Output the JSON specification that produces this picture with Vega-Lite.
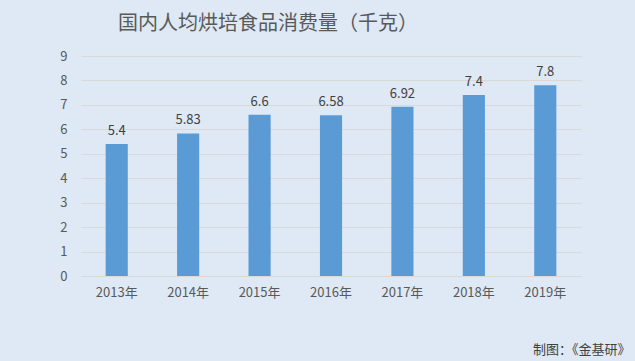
{
  "$schema": "https://vega.github.io/schema/vega-lite/v6.json",
  "width": 500,
  "height": 220,
  "autosize": {"type": "none"},
  "padding": {"left": 81, "top": 56, "right": 54, "bottom": 85},
  "background": "#dee9f5",
  "config": {
    "view": {"stroke": null},
    "font": "Noto Sans CJK SC"
  },
  "title": {
    "text": "国内人均烘培食品消费量（千克）",
    "anchor": "start",
    "frame": "group",
    "dx": 37,
    "offset": 16,
    "fontSize": 20,
    "fontWeight": "normal",
    "color": "#595959",
    "font": "Noto Sans CJK SC"
  },
  "data": {
    "values": [
      {"year": "2013年", "value": 5.4},
      {"year": "2014年", "value": 5.83},
      {"year": "2015年", "value": 6.6},
      {"year": "2016年", "value": 6.58},
      {"year": "2017年", "value": 6.92},
      {"year": "2018年", "value": 7.4},
      {"year": "2019年", "value": 7.8}
    ]
  },
  "encoding": {
    "x": {
      "field": "year",
      "type": "nominal",
      "sort": null,
      "scale": {"paddingInner": 0.69, "paddingOuter": 0.345},
      "axis": {
        "title": "制图：《金基研》",
        "titleFontSize": 13,
        "titleFontWeight": "normal",
        "titleColor": "#404040",
        "titleAnchor": "start",
        "titleAlign": "right",
        "titleBaseline": "alphabetic",
        "titleX": 549,
        "titleY": 77,
        "labelAngle": 0,
        "labelFontSize": 13,
        "labelColor": "#595959",
        "labelPadding": 10,
        "ticks": false,
        "domainColor": "#d9d9d9",
        "grid": false
      }
    },
    "y": {
      "field": "value",
      "type": "quantitative",
      "scale": {"domain": [0, 9]},
      "axis": {
        "title": null,
        "values": [0, 1, 2, 3, 4, 5, 6, 7, 8, 9],
        "labelFontSize": 13,
        "labelColor": "#595959",
        "labelPadding": 14,
        "ticks": false,
        "domain": false,
        "gridColor": "#d9d9d9",
        "gridWidth": 1
      }
    }
  },
  "layer": [
    {"mark": {"type": "bar", "color": "#5b9bd5"}},
    {
      "mark": {"type": "text", "dy": -13, "fontSize": 13, "color": "#404040"},
      "encoding": {"text": {"field": "value", "type": "quantitative"}}
    }
  ]
}
